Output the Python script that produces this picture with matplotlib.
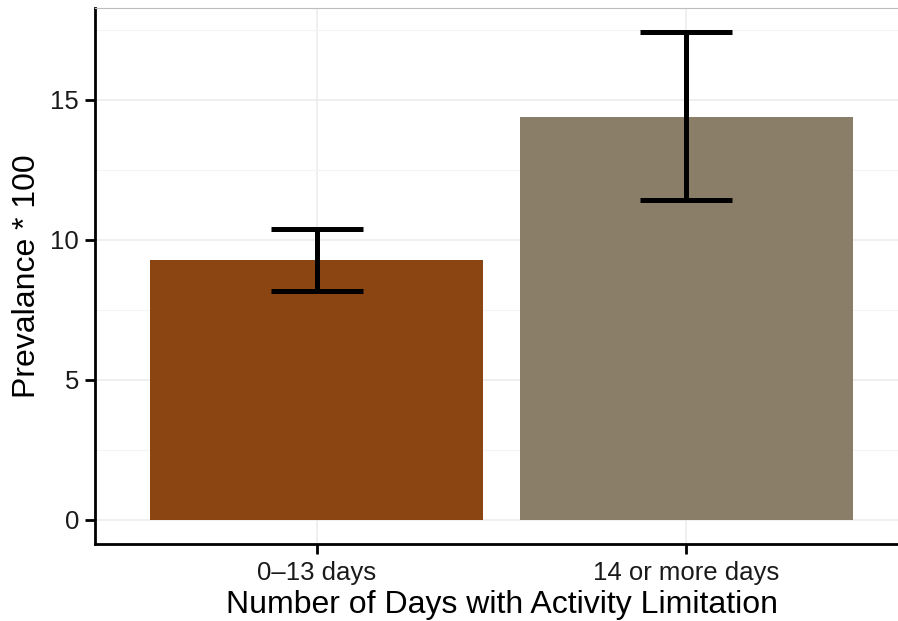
import numpy as np
import matplotlib
matplotlib.use("Agg")
import matplotlib.pyplot as plt

# data
categories = ["0\u201313 days", "14 or more days"]
prevalence = [9.27, 14.39]
ci_low = [8.16, 11.42]
ci_high = [10.38, 17.40]
bar_colors = ["#8B4513", "#8B7E68"]

plt.rcParams['font.family'] = ['Liberation Sans', 'DejaVu Sans']

fig = plt.figure(figsize=(8.98, 6.21), dpi=100)
# panel runs a little past the right edge, like the cropped original
ax = fig.add_axes([95/898, 1 - 544/621, (908 - 95)/898, (544 - 8)/621])

x = np.arange(1, len(categories) + 1)
ax.bar(x, prevalence, width=0.9, color=bar_colors, zorder=2)

err = [np.array(prevalence) - np.array(ci_low), np.array(ci_high) - np.array(prevalence)]
ax.errorbar(x, prevalence, yerr=err, fmt='none', ecolor='black',
            elinewidth=3.6, capsize=33, capthick=3.6, zorder=3)

ax.set_xlim(0.4, 2.6)
ax.set_ylim(-0.87, 18.27)
ax.set_yticks([0, 5, 10, 15])
ax.set_yticks([2.5, 7.5, 12.5, 17.5], minor=True)
ax.set_xticks(x)
ax.set_xticklabels(categories)

ax.grid(which='major', color='#ebebeb', linewidth=1.1, zorder=0)
ax.grid(which='minor', axis='y', color='#f4f4f4', linewidth=0.8, zorder=0)
ax.set_axisbelow(True)

for side in ['left', 'bottom']:
    ax.spines[side].set_linewidth(2)
    ax.spines[side].set_color('black')
ax.spines['top'].set_color('#bdbdbd')
ax.spines['top'].set_linewidth(0.8)
ax.spines['right'].set_visible(False)

ax.tick_params(axis='both', which='major', length=7.5, width=2, color='black',
               labelsize=18.5, labelcolor='#1a1a1a')
ax.tick_params(axis='y', which='minor', length=0)
ax.tick_params(axis='x', pad=5)
ax.tick_params(axis='y', pad=4)

ax.set_xlabel("Number of Days with Activity Limitation", fontsize=23, labelpad=3)
ax.set_ylabel("Prevalance * 100", fontsize=23, labelpad=6)

fig.savefig("out.png", dpi=100)
